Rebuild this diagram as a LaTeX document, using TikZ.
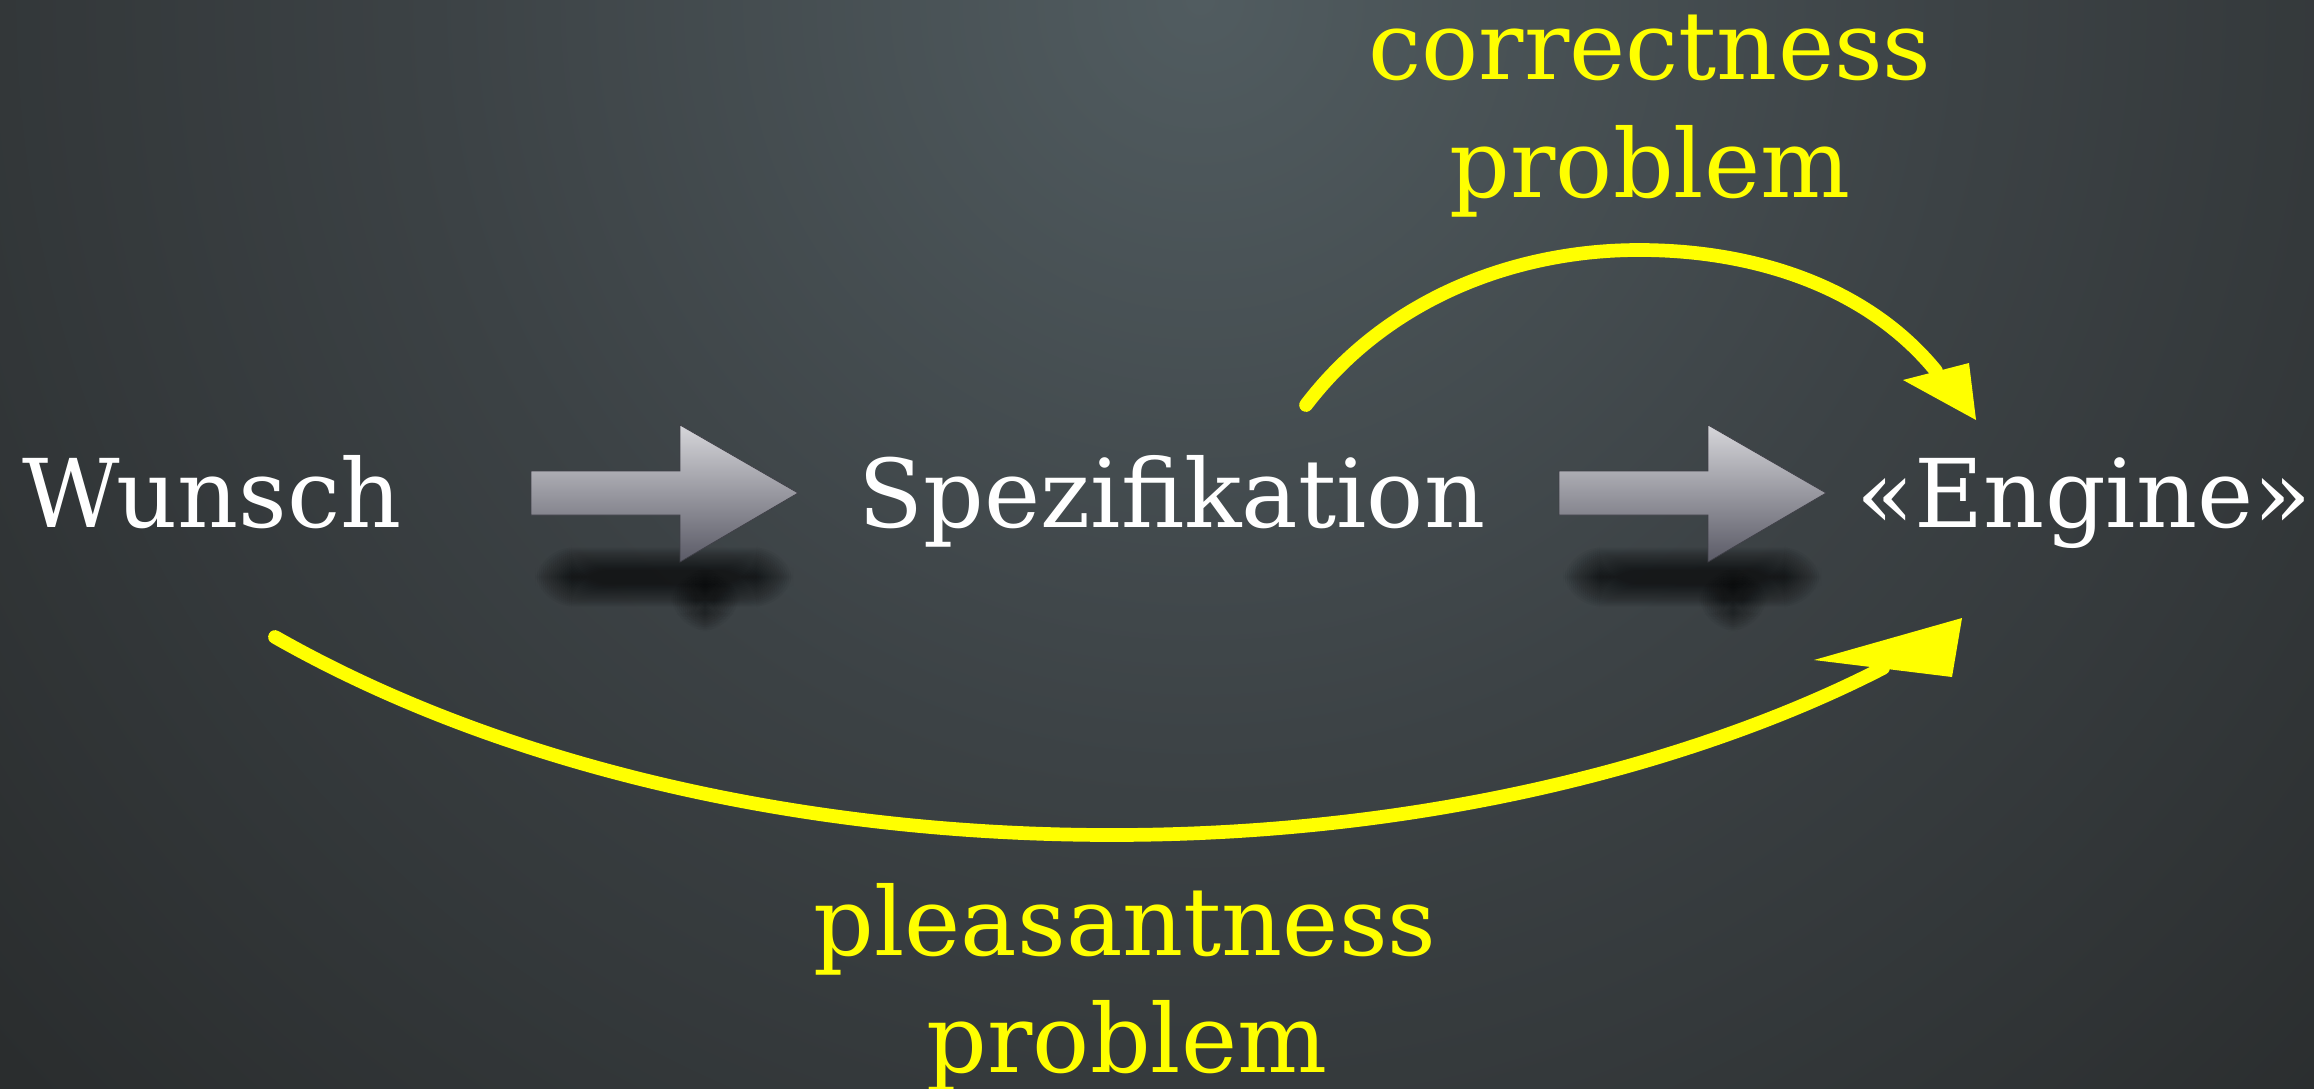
\documentclass[tikz,border=0pt]{standalone}
\usepackage{fontspec}
\setmainfont{DejaVu Serif}
\usetikzlibrary{calc}
\definecolor{bgA}{HTML}{515C60}
\definecolor{bgB}{HTML}{3C4245}
\definecolor{bgC}{HTML}{2A2D2E}
\definecolor{bgD}{HTML}{151515}
\definecolor{arrTop}{HTML}{D6D6DA}
\definecolor{arrBot}{HTML}{5A5A66}
\definecolor{hiYellow}{HTML}{FFFF00}
\pgfdeclareradialshading{bgshade}{\pgfpoint{0bp}{0bp}}{color(0bp)=(bgA); color(12bp)=(bgB); color(25bp)=(bgC); color(50bp)=(bgD)}
\tikzset{
  wtext/.style={text=white, inner sep=0pt, font=\fontsize{54}{60}\selectfont},
  ytext/.style={text=hiYellow, inner sep=0pt, font=\fontsize{54}{60}\selectfont},
  yline/.style={draw=hiYellow, line width=7.8pt, line cap=round},
  yhead/.style={fill=hiYellow},
  blockarr/.style={top color=arrTop, bottom color=arrBot, draw=arrBot!70!black, line width=0.4pt},
  shadowpiece/.style={fill=black, fill opacity=0.04, rounded corners=22}
}
\begin{document}
\begin{tikzpicture}[x=0.02cm,y=-0.02cm]
\useasboundingbox (0,0) rectangle (2314,1088);
% background
\begin{scope}
  \clip (0,0) rectangle (2314,1088);
  \fill[bgD] (0,0) rectangle (2314,1088);
  \shade[shading=bgshade] (-400,-1600) rectangle (2800,1600);
\end{scope}

% soft shadows of block arrows
\foreach \xo in {531,1559} {
  \foreach \d in {0,2,...,36} {
    \fill[shadowpiece] ({\xo+40-\d},{570-\d/1.6}) rectangle ({\xo+226+\d},{584+\d/1.6});
  }
  \foreach \d in {0,2,...,24} {
    \fill[shadowpiece] ({\xo+164-\d},{586-\d/1.4}) rectangle ({\xo+184+\d},{614+\d/1.4});
  }
}

% block arrows
\foreach \xo in {531,1559} {
  \shade[blockarr] (\xo,471) -- ({\xo+149},471) -- ({\xo+149},425) -- ({\xo+267},493)
     -- ({\xo+149},562) -- ({\xo+149},515) -- (\xo,515) -- cycle;
}

% texts
\node[wtext, anchor=base] (wunsch) at (212,527) {Wunsch};
\node[wtext, anchor=base] (spez) at (1172,527) {Spezifikation};
\node[wtext, anchor=base] (engine) at (2084,527) {«Engine»};
\node[ytext, anchor=base] (corrA) at (1650,80) {correctness};
\node[ytext, anchor=base] (corrB) at (1650,197) {problem};
\node[ytext, anchor=base] (pleaA) at (1125,955) {pleasantness};
\node[ytext, anchor=base] (pleaB) at (1127,1072) {problem};

% connector end points
\coordinate (cS) at (1306,405);
\coordinate (cT) at (1639,250);
\coordinate (cE) at (1936,371);
\coordinate (pS) at (275,637);
\coordinate (pB) at (1112,835);
\coordinate (pE) at (1883,668);

% correctness curve
\draw[yline] (cS) .. controls (1390,295) and (1520,250) .. (cT)
   .. controls (1760,250) and (1870,290) .. (cE);
\fill[yhead] (1976,420) -- (1903,380) -- (1969,363) -- cycle;

% pleasantness curve
\draw[yline] (pS) .. controls (500,765) and (800,835) .. (pB)
   .. controls (1450,835) and (1720,752) .. (pE);
\fill[yhead] (1962,618) -- (1814,660) -- (1952,677) -- cycle;
\end{tikzpicture}
\end{document}
